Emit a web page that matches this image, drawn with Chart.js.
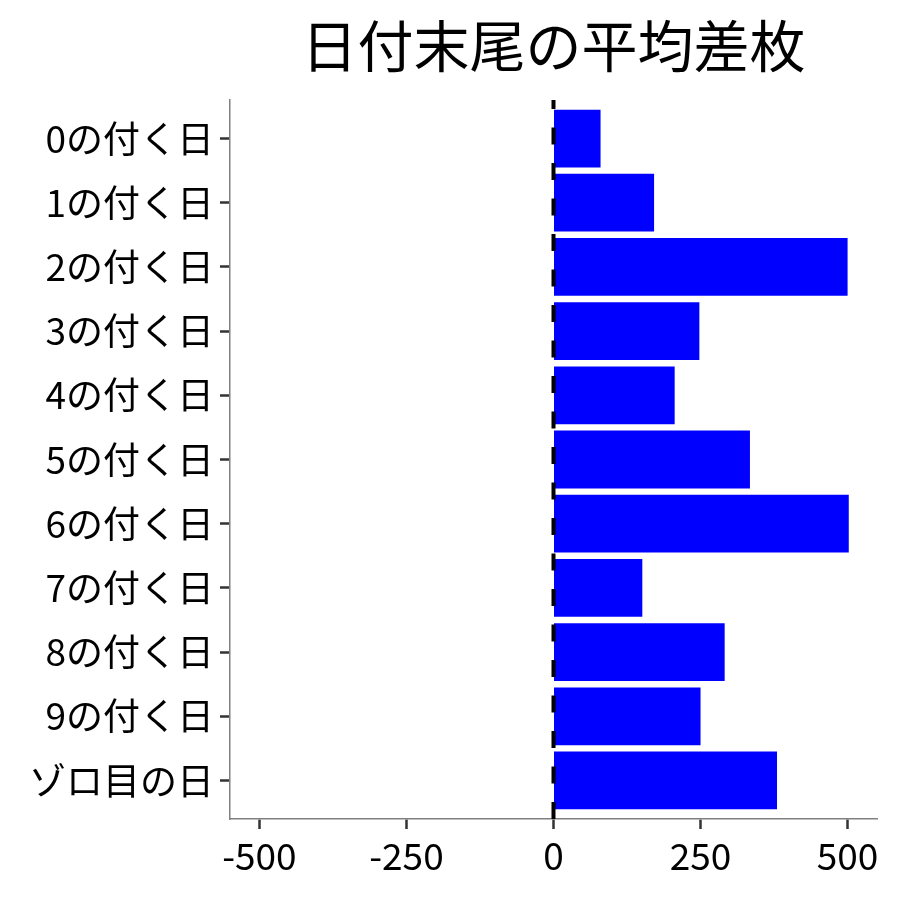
<!DOCTYPE html>
<html>
<head>
<meta charset="utf-8">
<script src="https://cdn.jsdelivr.net/npm/chart.js@4.4.1/dist/chart.umd.min.js"></script>
<style>
  html, body { margin: 0; padding: 0; background: #fff; }
  #wrap { width: 900px; height: 900px; }
</style>
</head>
<body>
<div id="wrap"><canvas id="chart" width="900" height="900"></canvas></div>
<script>
// Data
const categories = ['0の付く日', '1の付く日', '2の付く日', '3の付く日', '4の付く日', '5の付く日',
  '6の付く日', '7の付く日', '8の付く日', '9の付く日', 'ゾロ目の日'];
const avgDiff = [80, 171, 500, 248, 206, 334, 502, 151, 291, 250, 380];
const xTicks = [-500, -250, 0, 250, 500];
const titleText = '日付末尾の平均差枚';

const FONT = '"Noto Sans CJK JP", "Noto Sans", sans-serif';

// Bars sit on a numeric index axis so the spacing matches the original
const barData = avgDiff.map((v, i) => ({ x: v, y: i }));

// Title centred over the plot panel
const titlePlugin = {
  id: 'panelTitle',
  afterDraw(chart) {
    const { ctx, chartArea } = chart;
    ctx.save();
    ctx.font = '56px ' + FONT;
    ctx.fillStyle = '#000';
    ctx.textAlign = 'center';
    ctx.textBaseline = 'middle';
    ctx.fillText(titleText, (chartArea.left + chartArea.right) / 2, 46);
    ctx.restore();
  }
};

// Dashed reference line at zero
const zeroLine = {
  id: 'zeroLine',
  afterDatasetsDraw(chart) {
    const { ctx, chartArea, scales } = chart;
    const x0 = scales.x.getPixelForValue(0);
    ctx.save();
    ctx.strokeStyle = '#000';
    ctx.lineWidth = 4;
    ctx.setLineDash([17, 18.5]);
    ctx.beginPath();
    ctx.moveTo(x0, chartArea.bottom);
    ctx.lineTo(x0, chartArea.top);
    ctx.stroke();
    ctx.restore();
  }
};

new Chart(document.getElementById('chart'), {
  type: 'bar',
  data: {
    datasets: [{
      data: barData,
      backgroundColor: '#0000ff',
      borderWidth: 0,
      barPercentage: 0.9,
      categoryPercentage: 1.0
    }]
  },
  options: {
    indexAxis: 'y',
    responsive: false,
    animation: false,
    devicePixelRatio: 1,
    layout: { padding: { top: 100, right: 23, bottom: 0, left: 0 } },
    plugins: {
      legend: { display: false },
      tooltip: { enabled: false },
      title: { display: false }
    },
    scales: {
      x: {
        type: 'linear',
        min: -550,
        max: 550,
        afterBuildTicks(scale) { scale.ticks = xTicks.map(v => ({ value: v })); },
        afterFit(scale) { scale.height = 81; },
        ticks: {
          color: '#000',
          font: { family: FONT, size: 37 },
          padding: 5,
          maxRotation: 0
        },
        grid: {
          drawOnChartArea: false,
          drawTicks: true,
          tickLength: 10,
          tickColor: '#333',
          tickWidth: 2.5
        },
        border: { display: true, color: '#808080', width: 1.5 }
      },
      y: {
        type: 'linear',
        reverse: true,
        min: -0.6,
        max: 10.6,
        offset: false,
        afterBuildTicks(scale) { scale.ticks = categories.map((c, i) => ({ value: i })); },
        afterFit(scale) { scale.width = 230; },
        ticks: {
          color: '#000',
          font: { family: FONT, size: 37 },
          padding: 6,
          callback: v => categories[v]
        },
        grid: {
          offset: false,
          drawOnChartArea: false,
          drawTicks: true,
          tickLength: 10,
          tickColor: '#333',
          tickWidth: 2.5
        },
        border: { display: true, color: '#808080', width: 1.5 }
      }
    }
  },
  plugins: [titlePlugin, zeroLine]
});
</script>
</body>
</html>
